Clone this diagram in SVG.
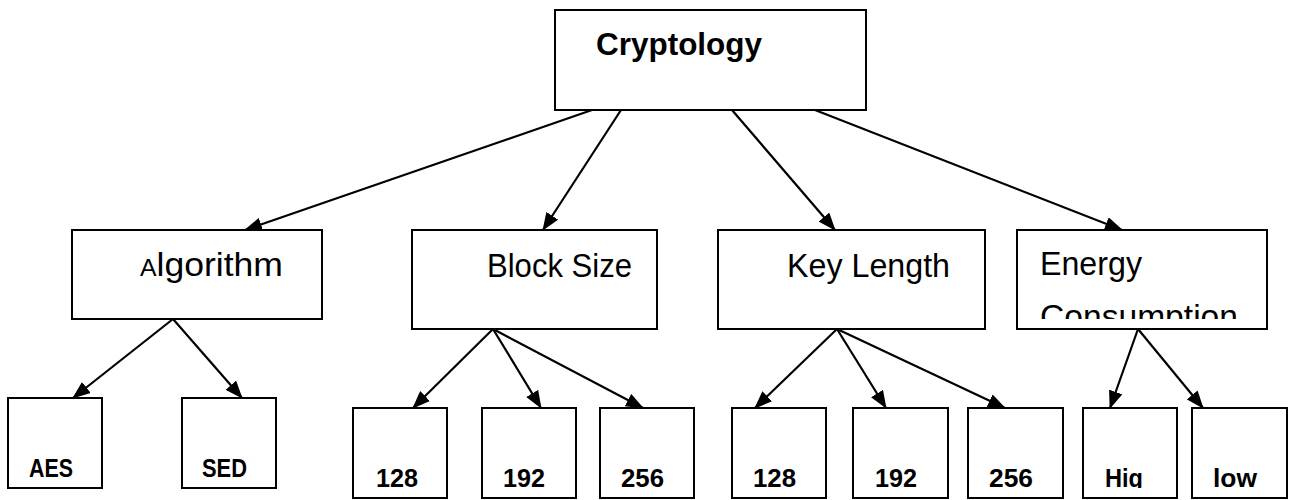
<svg xmlns="http://www.w3.org/2000/svg" width="1290" height="500" viewBox="0 0 1290 500">
  <style>
    .box { fill: #ffffff; stroke: #000000; stroke-width: 2; }
    .edge { fill: none; stroke: #000000; stroke-width: 2.2; marker-end: url(#arrow); }
    .title { font-family: "Liberation Sans", Arial, sans-serif; font-weight: bold; font-size: 31px; fill: #000; }
    .label { font-family: "Liberation Sans", Arial, sans-serif; font-size: 33px; fill: #000; }
    .leaf { font-family: "Liberation Sans", Arial, sans-serif; font-weight: bold; font-size: 25px; fill: #000; }
  </style>
  <defs>
    <marker id="arrow" markerUnits="userSpaceOnUse" markerWidth="18" markerHeight="14" refX="17" refY="7" orient="auto">
      <path d="M0,0 L18,7 L0,14 Z" fill="#000000"/>
    </marker>
    <clipPath id="clipEnergy"><rect x="1018" y="231" width="248" height="88"/></clipPath>
    <clipPath id="clipHig"><rect x="1084" y="409" width="92" height="79"/></clipPath>
  </defs>

  <rect width="1290" height="500" fill="#ffffff"/>

  <!-- connectors -->
  <g id="connectors">
    <line class="edge" x1="592" y1="110" x2="245" y2="230"/>
    <line class="edge" x1="621" y1="110" x2="543" y2="230"/>
    <line class="edge" x1="732" y1="110" x2="835" y2="230"/>
    <line class="edge" x1="815" y1="110" x2="1122" y2="230"/>

    <line class="edge" x1="173" y1="319" x2="73" y2="398"/>
    <line class="edge" x1="173" y1="319" x2="242" y2="398"/>

    <line class="edge" x1="493" y1="329" x2="413" y2="408"/>
    <line class="edge" x1="493" y1="329" x2="541" y2="408"/>
    <line class="edge" x1="493" y1="329" x2="643" y2="408"/>

    <line class="edge" x1="837" y1="329" x2="755" y2="408"/>
    <line class="edge" x1="837" y1="329" x2="886" y2="408"/>
    <line class="edge" x1="837" y1="329" x2="1005" y2="408"/>

    <line class="edge" x1="1138" y1="329" x2="1110" y2="408"/>
    <line class="edge" x1="1138" y1="329" x2="1203" y2="408"/>
  </g>

  <!-- root -->
  <g id="cryptology">
    <rect class="box" x="555" y="10" width="311" height="100"/>
    <text class="title" x="596" y="55" textLength="166" lengthAdjust="spacingAndGlyphs">Cryptology</text>
  </g>

  <!-- second level -->
  <g id="algorithm">
    <rect class="box" x="72" y="230" width="250" height="89"/>
    <text class="label" x="140" y="276" textLength="143" lengthAdjust="spacingAndGlyphs"><tspan font-size="23">A</tspan>lgorithm</text>
  </g>
  <g id="block-size">
    <rect class="box" x="412" y="230" width="245" height="99"/>
    <text class="label" x="487" y="277" textLength="145" lengthAdjust="spacingAndGlyphs">Block Size</text>
  </g>
  <g id="key-length">
    <rect class="box" x="718" y="230" width="267" height="99"/>
    <text class="label" x="787" y="277" textLength="163" lengthAdjust="spacingAndGlyphs">Key Length</text>
  </g>
  <g id="energy">
    <rect class="box" x="1017" y="230" width="250" height="99"/>
    <g clip-path="url(#clipEnergy)">
      <text class="label" x="1040" y="275" textLength="102" lengthAdjust="spacingAndGlyphs">Energy</text>
      <text class="label" x="1040" y="328" textLength="198" lengthAdjust="spacingAndGlyphs">Consumption</text>
    </g>
  </g>

  <!-- leaves -->
  <g id="aes">
    <rect class="box" x="8" y="398" width="94" height="90"/>
    <text class="leaf" x="29" y="477" textLength="44" lengthAdjust="spacingAndGlyphs">AES</text>
  </g>
  <g id="sed">
    <rect class="box" x="182" y="398" width="94" height="90"/>
    <text class="leaf" x="202" y="477" textLength="45" lengthAdjust="spacingAndGlyphs">SED</text>
  </g>
  <g id="block-128">
    <rect class="box" x="353" y="408" width="94" height="90"/>
    <text class="leaf" x="376" y="487" textLength="42" lengthAdjust="spacingAndGlyphs">128</text>
  </g>
  <g id="block-192">
    <rect class="box" x="482" y="408" width="94" height="90"/>
    <text class="leaf" x="503" y="487" textLength="42" lengthAdjust="spacingAndGlyphs">192</text>
  </g>
  <g id="block-256">
    <rect class="box" x="600" y="408" width="94" height="90"/>
    <text class="leaf" x="621" y="487" textLength="43" lengthAdjust="spacingAndGlyphs">256</text>
  </g>
  <g id="key-128">
    <rect class="box" x="732" y="408" width="94" height="90"/>
    <text class="leaf" x="753" y="487" textLength="43" lengthAdjust="spacingAndGlyphs">128</text>
  </g>
  <g id="key-192">
    <rect class="box" x="853" y="408" width="95" height="90"/>
    <text class="leaf" x="875" y="487" textLength="42" lengthAdjust="spacingAndGlyphs">192</text>
  </g>
  <g id="key-256">
    <rect class="box" x="968" y="408" width="95" height="90"/>
    <text class="leaf" x="989" y="487" textLength="44" lengthAdjust="spacingAndGlyphs">256</text>
  </g>
  <g id="energy-high">
    <rect class="box" x="1083" y="408" width="94" height="90"/>
    <text class="leaf" x="1105" y="487" textLength="38" lengthAdjust="spacingAndGlyphs" clip-path="url(#clipHig)">Hig</text>
  </g>
  <g id="energy-low">
    <rect class="box" x="1192" y="408" width="95" height="90"/>
    <text class="leaf" x="1213" y="487" textLength="44" lengthAdjust="spacingAndGlyphs">low</text>
  </g>
</svg>
